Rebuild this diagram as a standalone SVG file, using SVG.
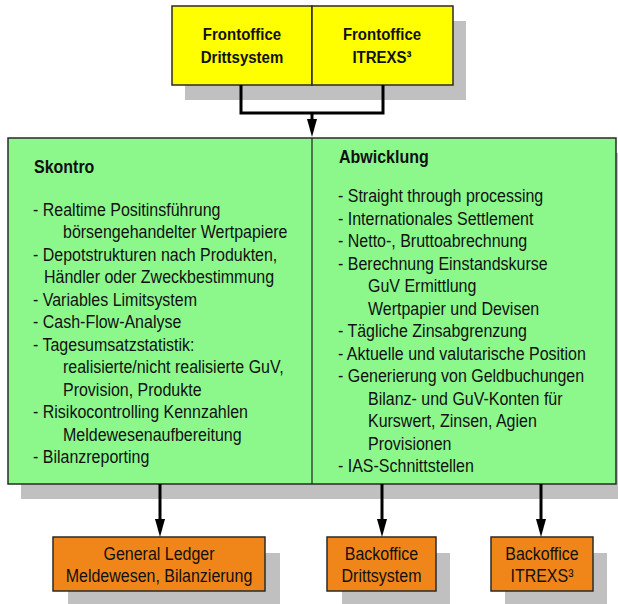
<svg xmlns="http://www.w3.org/2000/svg" width="618" height="604" viewBox="0 0 618 604">
<style>
  .shadow { fill: #c0c0c0; }
  .box { stroke: #2a2a2a; stroke-width: 1.5; }
  .yellow { fill: #ffff00; }
  .green { fill: #8cf88c; }
  .orange { fill: #f0861a; }
  text { font-family: "Liberation Sans", Arial, sans-serif; fill: #111; font-size: 16px; transform-box: fill-box; transform-origin: center; transform: scaleY(1.12); }
  .b { font-weight: bold; }
  .b15 { font-weight: bold; font-size: 15px; }
  .c { text-anchor: middle; }
  .conn { fill: none; stroke: #000; stroke-width: 3; }
  .div { stroke: #222; stroke-width: 1.2; }
</style>
<defs>
  <marker id="arr" markerUnits="userSpaceOnUse" viewBox="0 -6 20 12" markerWidth="20" markerHeight="12" refX="10" refY="0" orient="auto">
    <path d="M0,-5 L18,0 L0,5 z" fill="#000"/>
  </marker>
</defs>
<rect width="618" height="604" fill="#fff"/>

<g id="frontoffice">
  <rect class="shadow" x="185" y="21" width="281" height="79"/>
  <g id="fo-dritt">
    <rect class="box yellow" x="172" y="6" width="140" height="79"/>
    <text class="b15 c" x="242" y="39">Frontoffice</text>
    <text class="b15 c" x="242" y="62">Drittsystem</text>
  </g>
  <g id="fo-itrexs">
    <rect class="box yellow" x="312" y="6" width="141" height="79"/>
    <text class="b15 c" x="382" y="39">Frontoffice</text>
    <text class="b15 c" x="382" y="62">ITREXS³</text>
  </g>
</g>

<g id="main">
  <rect class="shadow" x="21" y="153" width="610" height="346"/>
  <rect class="box green" x="8" y="138" width="608" height="346"/>
  <line class="div" x1="312" y1="138" x2="312" y2="484"/>
  <g id="skontro">
    <text class="b" x="34" y="172">Skontro</text>
    <text x="33" y="215">- Realtime Positinsführung</text>
    <text x="63" y="237.5">börsengehandelter Wertpapiere</text>
    <text x="33" y="260">- Depotstrukturen nach Produkten,</text>
    <text x="44" y="282.5">Händler oder Zweckbestimmung</text>
    <text x="33" y="305">- Variables Limitsystem</text>
    <text x="33" y="327.5">- Cash-Flow-Analyse</text>
    <text x="33" y="350">- Tagesumsatzstatistik:</text>
    <text x="63" y="372.5">realisierte/nicht realisierte GuV,</text>
    <text x="63" y="395">Provision, Produkte</text>
    <text x="33" y="417.5">- Risikocontrolling Kennzahlen</text>
    <text x="63" y="440">Meldewesenaufbereitung</text>
    <text x="33" y="462.5">- Bilanzreporting</text>
  </g>
  <g id="abwicklung">
    <text class="b" x="339" y="162">Abwicklung</text>
    <text x="338" y="201.5">- Straight through processing</text>
    <text x="338" y="224">- Internationales Settlement</text>
    <text x="338" y="246.5">- Netto-, Bruttoabrechnung</text>
    <text x="338" y="269">- Berechnung Einstandskurse</text>
    <text x="368" y="291.5">GuV Ermittlung</text>
    <text x="368" y="314">Wertpapier und Devisen</text>
    <text x="338" y="336.5">- Tägliche Zinsabgrenzung</text>
    <text x="338" y="359">- Aktuelle und valutarische Position</text>
    <text x="338" y="381.5">- Generierung von Geldbuchungen</text>
    <text x="368" y="404">Bilanz- und GuV-Konten für</text>
    <text x="368" y="426.5">Kurswert, Zinsen, Agien</text>
    <text x="368" y="449">Provisionen</text>
    <text x="338" y="471.5">- IAS-Schnittstellen</text>
  </g>
</g>

<g id="general-ledger">
  <rect class="shadow" x="68" y="553" width="212" height="54"/>
  <rect class="box orange" x="53" y="537" width="212" height="54"/>
  <text class="c" x="159" y="559">General Ledger</text>
  <text class="c" x="159" y="581">Meldewesen, Bilanzierung</text>
</g>
<g id="bo-dritt">
  <rect class="shadow" x="342" y="553" width="108" height="54"/>
  <rect class="box orange" x="327" y="537" width="109" height="54"/>
  <text class="c" x="381.5" y="559">Backoffice</text>
  <text class="c" x="381.5" y="581">Drittsystem</text>
</g>
<g id="bo-itrexs">
  <rect class="shadow" x="505" y="553" width="102" height="54"/>
  <rect class="box orange" x="491" y="537" width="102" height="54"/>
  <text class="c" x="542" y="559">Backoffice</text>
  <text class="c" x="542" y="581">ITREXS³</text>
</g>

<g id="connectors">
  <path class="conn" d="M241,85 V113 H383 V85"/>
  <path class="conn" d="M312,113 V129" marker-end="url(#arr)"/>
  <path class="conn" d="M160,484 V529" marker-end="url(#arr)"/>
  <path class="conn" d="M382,484 V529" stroke-width="3.5" marker-end="url(#arr)"/>
  <path class="conn" d="M541,484 V529" stroke-width="2.5" marker-end="url(#arr)"/>
</g>
</svg>
